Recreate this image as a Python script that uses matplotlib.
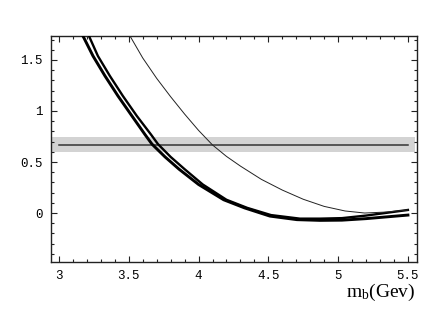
import matplotlib
matplotlib.use("Agg")
import matplotlib.pyplot as plt
from matplotlib.ticker import MultipleLocator

# values
mb_a = [3.10, 3.172, 3.244, 3.330, 3.423, 3.523, 3.616, 3.666, 3.76, 3.86,
        4.0, 4.18, 4.33, 4.511, 4.705, 4.87, 5.027, 5.2, 5.5]
fit_a = [1.95, 1.735, 1.539, 1.343, 1.147, 0.951, 0.77, 0.676, 0.55, 0.43,
         0.28, 0.13, 0.05, -0.03, -0.065, -0.072, -0.07, -0.055, -0.02]

mb_b = [3.14, 3.215, 3.279, 3.365, 3.458, 3.558, 3.659, 3.709, 3.80, 3.90,
        4.03, 4.20, 4.35, 4.519, 4.726, 4.87, 5.027, 5.2, 5.5]
fit_b = [1.95, 1.735, 1.539, 1.343, 1.147, 0.951, 0.77, 0.676, 0.55, 0.43,
         0.28, 0.13, 0.05, -0.02, -0.055, -0.055, -0.05, -0.025, 0.03]

mb_c = [3.45, 3.509, 3.60, 3.70, 3.80, 3.90, 4.0, 4.1, 4.2, 4.3,
        4.45, 4.6, 4.75, 4.9, 5.05, 5.19, 5.35, 5.5]
fit_c = [1.87, 1.735, 1.52, 1.32, 1.14, 0.97, 0.81, 0.667, 0.555, 0.46,
         0.33, 0.225, 0.135, 0.065, 0.02, 0.0, 0.01, 0.03]

band_x = [2.95, 5.55]
band_lo = 0.6
band_hi = 0.745
line_x = [3.0, 5.5]
line_level = 0.667

xticks = [3, 3.5, 4, 4.5, 5, 5.5]
xticklabels = ["3", "3.5", "4", "4.5", "5", "5.5"]
yticks = [0, 0.5, 1, 1.5]
yticklabels = ["0", "0.5", "1", "1.5"]

plt.rcParams["mathtext.fontset"] = "custom"
plt.rcParams["mathtext.rm"] = "Liberation Serif"
plt.rcParams["mathtext.it"] = "Liberation Serif:italic"

fig = plt.figure(figsize=(4.46, 3.15), dpi=100)
ax = fig.add_axes([51 / 446, 53 / 315, 366 / 446, 226 / 315])

ax.fill_between(band_x, band_lo, band_hi, color="#d3d3d3", lw=0, zorder=1)
ax.plot(line_x, [line_level, line_level], color="#333333", lw=1.1, zorder=2)

ax.plot(mb_a, fit_a, color="black", lw=2.1, zorder=3, solid_joinstyle="round")
ax.plot(mb_b, fit_b, color="black", lw=1.7, zorder=3, solid_joinstyle="round")
ax.plot(mb_c, fit_c, color="#222222", lw=0.7, zorder=3)

ax.set_xlim(2.943, 5.565)
ax.set_ylim(-0.48, 1.735)

ax.set_xticks(xticks)
ax.set_xticklabels(xticklabels)
ax.set_yticks(yticks)
ax.set_yticklabels(yticklabels)
ax.xaxis.set_minor_locator(MultipleLocator(0.1))
ax.yaxis.set_minor_locator(MultipleLocator(0.1))
ax.tick_params(which="both", direction="in", top=True, right=True,
               width=0.8, color="#222222")
ax.tick_params(which="major", length=4, labelsize=9, pad=6)
ax.tick_params(which="minor", length=2)
ax.tick_params(axis="y", labelright=False)
ax.tick_params(axis="x", labeltop=False)
for lab in ax.get_xticklabels() + ax.get_yticklabels():
    lab.set_family("Liberation Mono")

for side in ["left", "bottom", "top", "right"]:
    ax.spines[side].set_linewidth(1.0)
    ax.spines[side].set_color("#222222")

ax.text(0.995, -0.09, r"$\mathrm{m_b(Gev)}$", transform=ax.transAxes,
        ha="right", va="top", fontsize=14)

fig.savefig("out.png", dpi=100)
